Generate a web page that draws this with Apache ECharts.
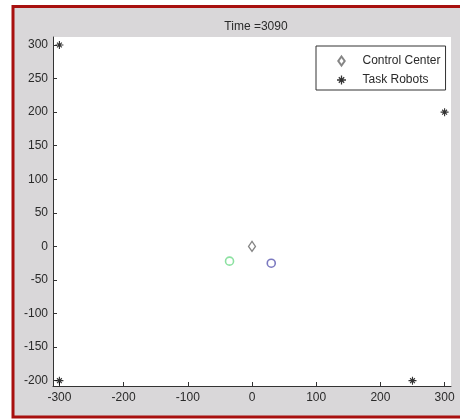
<!DOCTYPE html>
<html>
<head>
<meta charset="utf-8">
<script src="https://cdn.jsdelivr.net/npm/echarts@6/dist/echarts.min.js"></script>
<style>
  html, body { margin: 0; padding: 0; background: #ffffff; }
  #chart { width: 460px; height: 419px; }
</style>
</head>
<body>
<div id="chart"></div>
<script>
// Simulation snapshot
const timeStep = 3090;

// Fixed positions
const controlCenter = [[0, 0]];
const taskRobots = [[-300, 300], [300, 200], [-300, -200], [250, -200]];
const agentGreen = [[-35, -22]];
const agentBlue = [[30, -25]];

// Axis ticks
const xTicks = [-300, -200, -100, 0, 100, 200, 300];
const yTicks = [-200, -150, -100, -50, 0, 50, 100, 150, 200, 250, 300];

// Asterisk marker built from four thin bars (all same winding)
const asterisk = 'path://M0 4.3H10V5.7H0Z M4.3 0H5.7V10H4.3Z ' +
  'M1.5 2.5L2.5 1.5L8.5 7.5L7.5 8.5Z M7.5 1.5L8.5 2.5L2.5 8.5L1.5 7.5Z';
// Diamond outline shape (stroked via borderColor)
const diamond = 'path://M5 0L10 7L5 14L0 7Z';

const font = '"Liberation Sans", Arial, sans-serif';
const textColor = '#2a2a2a';

const chart = echarts.init(document.getElementById('chart'), null, { renderer: 'canvas' });

chart.setOption({
  animation: false,
  backgroundColor: '#ffffff',
  graphic: [
    {
      type: 'rect',
      z: -10,
      silent: true,
      shape: { x: 13, y: 6.5, width: 460, height: 410.5 },
      style: { fill: '#d9d7d9', stroke: '#a8100f', lineWidth: 3 }
    },
    {
      type: 'rect',
      z: -9,
      silent: true,
      shape: { x: 53, y: 37, width: 398, height: 349 },
      style: { fill: '#ffffff' }
    }
  ],
  title: {
    text: 'Time =' + timeStep,
    left: 251,
    top: 16,
    textAlign: 'center',
    textStyle: { fontFamily: font, fontSize: 12, fontWeight: 'normal', color: textColor }
  },
  legend: {
    orient: 'vertical',
    left: 316,
    top: 46,
    data: ['Control Center', 'Task Robots'],
    itemWidth: 32,
    itemHeight: 9,
    itemGap: 7,
    padding: [9, 5, 4, 21],
    borderColor: '#333333',
    borderWidth: 1,
    backgroundColor: '#ffffff',
    textStyle: { fontFamily: font, fontSize: 12, color: textColor }
  },
  grid: { left: 53, right: 9, top: 37, bottom: 33, containLabel: false },
  xAxis: {
    type: 'value',
    min: -310,
    max: 310,
    splitLine: { show: false },
    axisLine: { onZero: false, lineStyle: { color: '#333333', width: 1 } },
    axisTick: { inside: true, length: 4, customValues: xTicks, lineStyle: { color: '#333333' } },
    axisLabel: {
      customValues: xTicks,
      margin: 6,
      fontFamily: font, fontSize: 12, color: textColor
    }
  },
  yAxis: {
    type: 'value',
    min: -208,
    max: 312,
    splitLine: { show: false },
    axisLine: { onZero: false, lineStyle: { color: '#333333', width: 1 } },
    axisTick: { inside: true, length: 4, customValues: yTicks, lineStyle: { color: '#333333' } },
    axisLabel: {
      customValues: yTicks,
      margin: 5,
      fontFamily: font, fontSize: 12, color: textColor
    }
  },
  series: [
    {
      name: 'Control Center',
      type: 'scatter',
      data: controlCenter,
      symbol: diamond,
      symbolSize: [7, 10],
      itemStyle: { color: '#ffffff', borderColor: '#666666', borderWidth: 1.3 }
    },
    {
      name: 'Task Robots',
      type: 'scatter',
      data: taskRobots,
      symbol: asterisk,
      symbolSize: 8,
      itemStyle: { color: '#000000' }
    },
    {
      name: 'Agent A',
      type: 'scatter',
      data: agentGreen,
      symbol: 'circle',
      symbolSize: 8,
      itemStyle: { color: '#ffffff', borderColor: '#6fd98a', borderWidth: 1.6 }
    },
    {
      name: 'Agent B',
      type: 'scatter',
      data: agentBlue,
      symbol: 'circle',
      symbolSize: 8,
      itemStyle: { color: '#ffffff', borderColor: '#5a58b0', borderWidth: 1.6 }
    }
  ]
});
</script>
</body>
</html>
